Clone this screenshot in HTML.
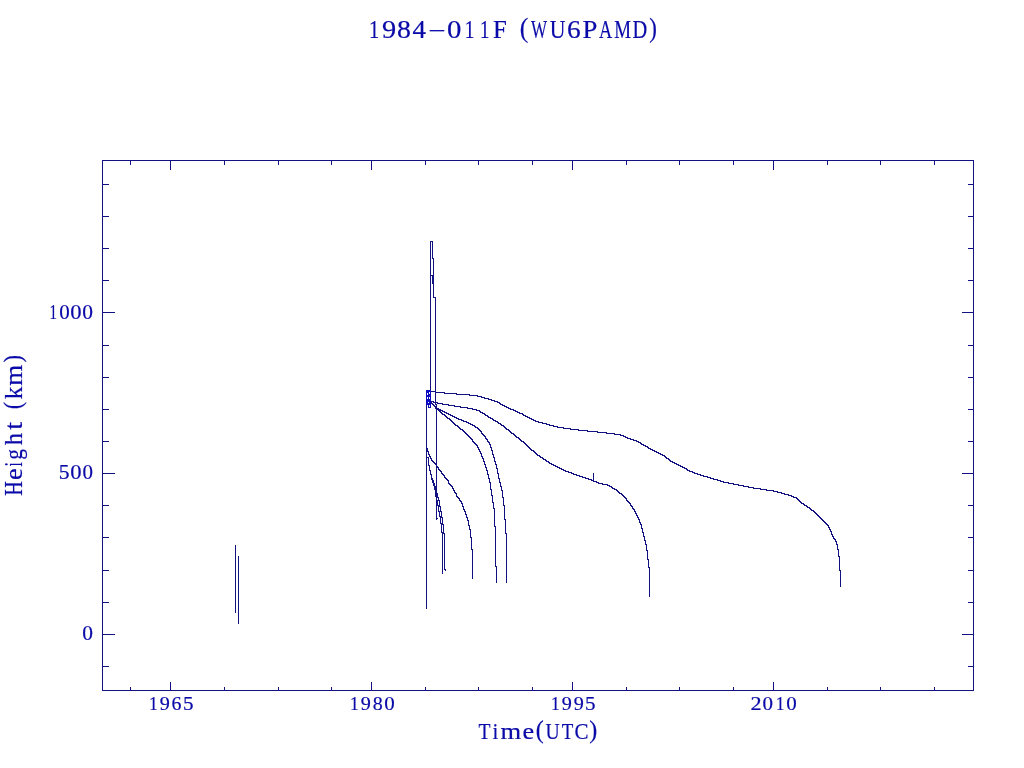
<!DOCTYPE html>
<html><head><meta charset="utf-8"><title>1984-011F (WU6PAMD)</title>
<style>html,body{margin:0;padding:0;background:#fff;width:1024px;height:768px;overflow:hidden}svg{display:block}</style>
</head><body>
<svg width="1024" height="768" viewBox="0 0 1024 768">
<rect width="1024" height="768" fill="#fff"/>
<path d="M102.5 160.5H973.5V690.5H102.5ZM102.5 184.5h6M973.5 184.5h-6M102.5 216.5h6M973.5 216.5h-6M102.5 248.5h6M973.5 248.5h-6M102.5 280.5h6M973.5 280.5h-6M102.5 312.5h12M973.5 312.5h-12M102.5 345.5h6M973.5 345.5h-6M102.5 377.5h6M973.5 377.5h-6M102.5 409.5h6M973.5 409.5h-6M102.5 441.5h6M973.5 441.5h-6M102.5 473.5h12M973.5 473.5h-12M102.5 505.5h6M973.5 505.5h-6M102.5 537.5h6M973.5 537.5h-6M102.5 570.5h6M973.5 570.5h-6M102.5 602.5h6M973.5 602.5h-6M102.5 634.5h12M973.5 634.5h-12M102.5 666.5h6M973.5 666.5h-6M170.5 690.5v-9M170.5 160.5v9M371.5 690.5v-9M371.5 160.5v9M572.5 690.5v-9M572.5 160.5v9M773.5 690.5v-9M773.5 160.5v9M130.5 690.5v-4M130.5 160.5v4M224.5 690.5v-4M224.5 160.5v4M278.5 690.5v-4M278.5 160.5v4M331.5 690.5v-4M331.5 160.5v4M425.5 690.5v-4M425.5 160.5v4M478.5 690.5v-4M478.5 160.5v4M532.5 690.5v-4M532.5 160.5v4M626.5 690.5v-4M626.5 160.5v4M679.5 690.5v-4M679.5 160.5v4M733.5 690.5v-4M733.5 160.5v4M827.5 690.5v-4M827.5 160.5v4M880.5 690.5v-4M880.5 160.5v4M934.5 690.5v-4M934.5 160.5v4" fill="none" stroke="#121282" stroke-width="1" shape-rendering="crispEdges"/>
<path d="M430.5 391.5H435.5V392.5H444.5V393.5H456.5V394.5H469.5V395.5H477.5V396.5H481.5V397.5H484.5V398.5H488.5V399.5H491.5V400.5H494.5V401.5H497.5V402.5H499.5V403.5H500.5V404.5H502.5V405.5H504.5V406.5H506.5V407.5H508.5V408.5H510.5V409.5H513.5V410.5H515.5V411.5H517.5V412.5H519.5V413.5H522.5V414.5H523.5V415.5H525.5V416.5H527.5V417.5H529.5V418.5H531.5V419.5H533.5V420.5H535.5V421.5H538.5V422.5H542.5V423.5H546.5V424.5H549.5V425.5H553.5V426.5H557.5V427.5H563.5V428.5H570.5V429.5H578.5V430.5H587.5V431.5H597.5V432.5H606.5V433.5H614.5V434.5H620.5V435.5H623.5V436.5H625.5V437.5H627.5V438.5H630.5V439.5H633.5V440.5H636.5V441.5H638.5V442.5H640.5V443.5H641.5V444.5H643.5V445.5H645.5V446.5H647.5V447.5H648.5V448.5H650.5V449.5H652.5V450.5H654.5V451.5H656.5V452.5H658.5V453.5H660.5V454.5H662.5V455.5H664.5V456.5H665.5V457.5H666.5V458.5H668.5V459.5H669.5V460.5H670.5V461.5H672.5V462.5H674.5V463.5H676.5V464.5H678.5V465.5H680.5V466.5H682.5V467.5H684.5V468.5H686.5V469.5H687.5V470.5H689.5V471.5H692.5V472.5H694.5V473.5H697.5V474.5H700.5V475.5H703.5V476.5H707.5V477.5H710.5V478.5H713.5V479.5H717.5V480.5H720.5V481.5H723.5V482.5H728.5V483.5H733.5V484.5H738.5V485.5H743.5V486.5H748.5V487.5H753.5V488.5H760.5V489.5H766.5V490.5H773.5V491.5H777.5V492.5H781.5V493.5H784.5V494.5H788.5V495.5H791.5V496.5H793.5V497.5H796.5V498.5H797.5V499.5H798.5V500.5H799.5V501.5H800.5V502.5H801.5V503.5H803.5V504.5H804.5V505.5H806.5V506.5H807.5V507.5H809.5V508.5H810.5V509.5H811.5V510.5H813.5V511.5H814.5V512.5H815.5V513.5H816.5V514.5H817.5V515.5H818.5V516.5H819.5V517.5H820.5V518.5H821.5V519.5H822.5V520.5H823.5V521.5H824.5V522.5H825.5V523.5H826.5V524.5H827.5V525.5H828.5V527.5H829.5V529.5H830.5V531.5H831.5V534.5H832.5V536.5H833.5V538.5H834.5V539.5H835.5V541.5H836.5V544.5H837.5V549.5H838.5V556.5H839.5V570.5H840.5V586.5M431.5 401.5H433.5V402.5H437.5V403.5H442.5V404.5H448.5V405.5H454.5V406.5H460.5V407.5H467.5V408.5H472.5V409.5H476.5V410.5H479.5V411.5H480.5V412.5H482.5V413.5H484.5V414.5H485.5V415.5H487.5V416.5H488.5V417.5H490.5V418.5H492.5V419.5H493.5V420.5H495.5V421.5H497.5V422.5H498.5V423.5H500.5V424.5H501.5V425.5H503.5V426.5H504.5V427.5H505.5V428.5H506.5V429.5H508.5V430.5H509.5V431.5H510.5V432.5H511.5V433.5H513.5V434.5H514.5V435.5H515.5V436.5H516.5V437.5H518.5V438.5H519.5V439.5H520.5V440.5H521.5V441.5H523.5V442.5H524.5V443.5H525.5V444.5H526.5V445.5H527.5V446.5H528.5V447.5H529.5V448.5H530.5V449.5H531.5V450.5H533.5V451.5H534.5V452.5H535.5V453.5H536.5V454.5H537.5V455.5H539.5V456.5H540.5V457.5H542.5V458.5H543.5V459.5H545.5V460.5H546.5V461.5H548.5V462.5H549.5V463.5H551.5V464.5H553.5V465.5H555.5V466.5H557.5V467.5H559.5V468.5H561.5V469.5H563.5V470.5H565.5V471.5H568.5V472.5H571.5V473.5H573.5V474.5H576.5V475.5H579.5V476.5H582.5V477.5H585.5V478.5H588.5V479.5H591.5V480.5H593.5V481.5H596.5V482.5H598.5V483.5H602.5V484.5H607.5V485.5H609.5V486.5H611.5V487.5H612.5V488.5H614.5V489.5H616.5V490.5H617.5V491.5H618.5V492.5H619.5V493.5H621.5V494.5H622.5V495.5H623.5V496.5H624.5V497.5H625.5V498.5H626.5V500.5H627.5V501.5H628.5V502.5H629.5V503.5H630.5V505.5H631.5V506.5H632.5V508.5H633.5V509.5H634.5V511.5H635.5V513.5H636.5V515.5H637.5V517.5H638.5V519.5H639.5V522.5H640.5V524.5H641.5V528.5H642.5V532.5H643.5V536.5H644.5V540.5H645.5V544.5H646.5V550.5H647.5V559.5H648.5V567.5H649.5V596.5M593.5 473.5V480.5M431.5 402.5V403.5H432.5V404.5H433.5V405.5H434.5V406.5H435.5V407.5H436.5V408.5H438.5V409.5H440.5V410.5H442.5V411.5H444.5V412.5H446.5V413.5H448.5V414.5H450.5V415.5H452.5V416.5H454.5V417.5H456.5V418.5H458.5V419.5H461.5V420.5H463.5V421.5H466.5V422.5H468.5V423.5H470.5V424.5H472.5V425.5H474.5V426.5H475.5V427.5H477.5V428.5H478.5V429.5H479.5V430.5H480.5V431.5H481.5V433.5H482.5V434.5H483.5V435.5H484.5V436.5H485.5V438.5H486.5V439.5H487.5V441.5H488.5V442.5H489.5V444.5H490.5V447.5H491.5V450.5H492.5V454.5H493.5V457.5H494.5V461.5H495.5V464.5H496.5V468.5H497.5V473.5H498.5V478.5H499.5V482.5H500.5V486.5H501.5V490.5H502.5V497.5H503.5V505.5H504.5V519.5H505.5V533.5H506.5V582.5M431.5 402.5V403.5H432.5V404.5H433.5V405.5H434.5V406.5H435.5V408.5H437.5V409.5H438.5V410.5H439.5V411.5H440.5V412.5H441.5V413.5H442.5V414.5H444.5V415.5H445.5V416.5H446.5V417.5H447.5V418.5H449.5V419.5H450.5V420.5H451.5V421.5H452.5V422.5H453.5V423.5H454.5V424.5H455.5V425.5H457.5V426.5H458.5V427.5H459.5V428.5H460.5V429.5H462.5V430.5H463.5V431.5H464.5V432.5H465.5V433.5H466.5V434.5H467.5V435.5H468.5V436.5H469.5V437.5H470.5V438.5H471.5V439.5H472.5V441.5H473.5V442.5H474.5V443.5H475.5V444.5H476.5V445.5H477.5V447.5H478.5V449.5H479.5V451.5H480.5V453.5H481.5V456.5H482.5V458.5H483.5V461.5H484.5V464.5H485.5V467.5H486.5V470.5H487.5V474.5H488.5V478.5H489.5V482.5H490.5V489.5H491.5V495.5H492.5V502.5H493.5V508.5H494.5V526.5H495.5V566.5H496.5V582.5M426.5 447.5V448.5H427.5V451.5H428.5V454.5H429.5V456.5H430.5V458.5H431.5V460.5H432.5V461.5H433.5V462.5H434.5V463.5H435.5V464.5H436.5V466.5H437.5V467.5H438.5V469.5H439.5V470.5H440.5V471.5H441.5V473.5H442.5V474.5H443.5V475.5H444.5V477.5H445.5V478.5H446.5V479.5H447.5V480.5H448.5V483.5H449.5V484.5H450.5V485.5H451.5V486.5H452.5V488.5H453.5V490.5H454.5V492.5H455.5V493.5H456.5V496.5H457.5V497.5H458.5V498.5H459.5V500.5H460.5V501.5H461.5V503.5H462.5V506.5H463.5V509.5H464.5V511.5H465.5V514.5H466.5V517.5H467.5V520.5H468.5V525.5H469.5V529.5H470.5V537.5H471.5V549.5H472.5V578.5M426.5 457.5H428.5V465.5H429.5V470.5H430.5V474.5H431.5V479.5H432.5V482.5H433.5V485.5H434.5V489.5H435.5V496.5H436.5V500.5H437.5V505.5H438.5V511.5H439.5V516.5H440.5V523.5H441.5V532.5H442.5V573.5M431.5 476.5V478.5H432.5V480.5H433.5V483.5H434.5V486.5H435.5V488.5H436.5V493.5H437.5V497.5H438.5V500.5H439.5V506.5H440.5V511.5H441.5V517.5H442.5V524.5H443.5V533.5H444.5V569.5H445.5V570.5M430.5 404.5V241.5H432.5V258.5H433.5V297.5H435.5V404.5H436.5V519.5V518.5H437.5M426.5 390.5V608.5M235.5 545.5V612.5M238.5 556.5V623.5" fill="none" stroke="#121282" stroke-width="1" stroke-linecap="square" stroke-linejoin="miter" shape-rendering="crispEdges"/>
<path d="M426 390h5v15h-5zM428 405h3v3h-3z" fill="#0a0ac0"/>
<path d="M427 393h1v2h-1zM429 392h1v2h-1zM427 397h1v2h-1zM429 397h1v2h-1zM428 402h1v1h-1zM429 405h1v2h-1z" fill="#fff"/>
<path d="M430.5 275.5H432.5V284" fill="none" stroke="#121282" stroke-width="1" shape-rendering="crispEdges"/>
<g fill="#0a0aa8" stroke="#0a0aa8" stroke-width="0.2" font-family="'Liberation Serif', serif">
<text y="38" font-size="26"><tspan x="368.90" y="38" textLength="10.23" lengthAdjust="spacingAndGlyphs">1</tspan><tspan x="382.09" y="38" textLength="14.17" lengthAdjust="spacingAndGlyphs">9</tspan><tspan x="397.14" y="38" textLength="13.92" lengthAdjust="spacingAndGlyphs">8</tspan><tspan x="412.56" y="38" textLength="13.47" lengthAdjust="spacingAndGlyphs">4</tspan><tspan x="428.01" y="34" font-size="15" textLength="17.93" lengthAdjust="spacingAndGlyphs">-</tspan><tspan x="446.91" y="38" textLength="14.39" lengthAdjust="spacingAndGlyphs">0</tspan><tspan x="464.80" y="38" textLength="9.66" lengthAdjust="spacingAndGlyphs">1</tspan><tspan x="479.95" y="38" textLength="9.37" lengthAdjust="spacingAndGlyphs">1</tspan><tspan x="493.08" y="38" textLength="13.82" lengthAdjust="spacingAndGlyphs">F</tspan> <tspan x="519.77" y="37.05" font-size="27.6" textLength="8.55" lengthAdjust="spacingAndGlyphs">(</tspan><tspan x="530.98" y="38" textLength="16.05" lengthAdjust="spacingAndGlyphs">W</tspan><tspan x="549.74" y="38" textLength="15.72" lengthAdjust="spacingAndGlyphs">U</tspan><tspan x="566.92" y="38" textLength="13.70" lengthAdjust="spacingAndGlyphs">6</tspan><tspan x="582.43" y="38" textLength="14.85" lengthAdjust="spacingAndGlyphs">P</tspan><tspan x="598.92" y="38" textLength="13.21" lengthAdjust="spacingAndGlyphs">A</tspan><tspan x="614.35" y="38" textLength="16.80" lengthAdjust="spacingAndGlyphs">M</tspan><tspan x="632.51" y="38" textLength="14.71" lengthAdjust="spacingAndGlyphs">D</tspan><tspan x="649.37" y="37.05" font-size="27.6" textLength="7.65" lengthAdjust="spacingAndGlyphs">)</tspan></text>
<text y="318.8" font-size="20.5"><tspan x="49.50" y="318.8" textLength="7.39" lengthAdjust="spacingAndGlyphs">1</tspan><tspan x="59.20" y="318.8" textLength="10.50" lengthAdjust="spacingAndGlyphs">0</tspan><tspan x="70.34" y="318.8" textLength="11.32" lengthAdjust="spacingAndGlyphs">0</tspan><tspan x="82.38" y="318.8" textLength="10.73" lengthAdjust="spacingAndGlyphs">0</tspan></text>
<text y="478.8" font-size="20.5"><tspan x="58.75" y="478.8" textLength="10.79" lengthAdjust="spacingAndGlyphs">5</tspan><tspan x="70.34" y="478.8" textLength="11.32" lengthAdjust="spacingAndGlyphs">0</tspan><tspan x="82.40" y="478.8" textLength="10.50" lengthAdjust="spacingAndGlyphs">0</tspan></text>
<text y="640" font-size="20.5"><tspan x="82.38" y="640" textLength="10.73" lengthAdjust="spacingAndGlyphs">0</tspan></text>
<text y="709.8" font-size="19.5"><tspan x="148.95" y="709.8" textLength="8.81" lengthAdjust="spacingAndGlyphs">1</tspan><tspan x="159.86" y="709.8" textLength="10.07" lengthAdjust="spacingAndGlyphs">9</tspan><tspan x="171.59" y="709.8" textLength="9.95" lengthAdjust="spacingAndGlyphs">6</tspan><tspan x="183.13" y="709.8" textLength="10.55" lengthAdjust="spacingAndGlyphs">5</tspan></text>
<text y="709.8" font-size="19.5"><tspan x="349.95" y="709.8" textLength="8.81" lengthAdjust="spacingAndGlyphs">1</tspan><tspan x="360.86" y="709.8" textLength="10.07" lengthAdjust="spacingAndGlyphs">9</tspan><tspan x="372.69" y="709.8" textLength="10.02" lengthAdjust="spacingAndGlyphs">8</tspan><tspan x="384.35" y="709.8" textLength="10.50" lengthAdjust="spacingAndGlyphs">0</tspan></text>
<text y="709.8" font-size="19.5"><tspan x="550.95" y="709.8" textLength="8.81" lengthAdjust="spacingAndGlyphs">1</tspan><tspan x="561.86" y="709.8" textLength="10.07" lengthAdjust="spacingAndGlyphs">9</tspan><tspan x="573.76" y="709.8" textLength="10.07" lengthAdjust="spacingAndGlyphs">9</tspan><tspan x="585.13" y="709.8" textLength="10.55" lengthAdjust="spacingAndGlyphs">5</tspan></text>
<text y="709.8" font-size="19.5"><tspan x="750.47" y="709.8" textLength="11.10" lengthAdjust="spacingAndGlyphs">2</tspan><tspan x="762.55" y="709.8" textLength="10.50" lengthAdjust="spacingAndGlyphs">0</tspan><tspan x="775.75" y="709.8" textLength="8.81" lengthAdjust="spacingAndGlyphs">1</tspan><tspan x="786.35" y="709.8" textLength="10.50" lengthAdjust="spacingAndGlyphs">0</tspan></text>
<text y="739" font-size="24"><tspan x="478.45" y="739" textLength="11.98" lengthAdjust="spacingAndGlyphs">T</tspan><tspan x="492.46" y="739" textLength="5.84" lengthAdjust="spacingAndGlyphs">i</tspan><tspan x="500.44" y="739" textLength="20.68" lengthAdjust="spacingAndGlyphs">m</tspan><tspan x="522.48" y="739" textLength="11.64" lengthAdjust="spacingAndGlyphs">e</tspan><tspan x="535.64" y="737.8" font-size="24.6" textLength="8.03" lengthAdjust="spacingAndGlyphs">(</tspan><tspan x="545.49" y="739" textLength="14.23" lengthAdjust="spacingAndGlyphs">U</tspan><tspan x="561.66" y="739" textLength="11.56" lengthAdjust="spacingAndGlyphs">T</tspan><tspan x="574.44" y="739" textLength="14.02" lengthAdjust="spacingAndGlyphs">C</tspan><tspan x="589.23" y="737.8" font-size="24.6" textLength="8.03" lengthAdjust="spacingAndGlyphs">)</tspan></text>
<text y="21.9" font-size="24.4" transform="rotate(-90)"><tspan x="-495.68" y="21.9" textLength="14.47" lengthAdjust="spacingAndGlyphs">H</tspan><tspan x="-480.13" y="21.9" textLength="11.76" lengthAdjust="spacingAndGlyphs">e</tspan><tspan x="-466.53" y="21.9" textLength="4.32" lengthAdjust="spacingAndGlyphs">i</tspan><tspan x="-459.67" y="21.9" textLength="10.67" lengthAdjust="spacingAndGlyphs">g</tspan><tspan x="-445.25" y="21.9" textLength="12.26" lengthAdjust="spacingAndGlyphs">h</tspan><tspan x="-429.68" y="21.9" textLength="7.85" lengthAdjust="spacingAndGlyphs">t</tspan> <tspan x="-408.92" y="20.97" font-size="24.6" textLength="7.00" lengthAdjust="spacingAndGlyphs">(</tspan><tspan x="-399.28" y="21.9" textLength="12.58" lengthAdjust="spacingAndGlyphs">k</tspan><tspan x="-385.77" y="21.9" textLength="20.99" lengthAdjust="spacingAndGlyphs">m</tspan><tspan x="-362.42" y="20.97" font-size="24.6" textLength="7.52" lengthAdjust="spacingAndGlyphs">)</tspan></text>
</g>
</svg>
</body></html>
